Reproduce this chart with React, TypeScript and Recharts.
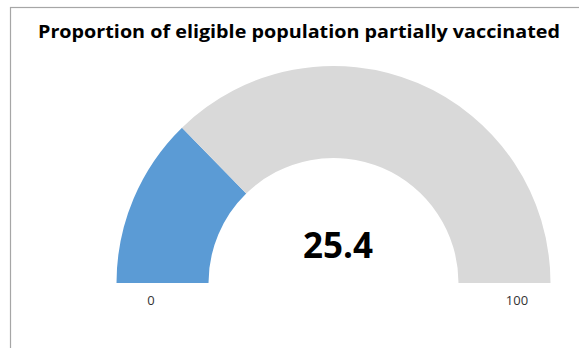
import React from 'react';
import { PieChart, Pie, Cell, Customized } from 'recharts';

const title = 'Proportion of eligible population partially vaccinated';
const segmentNames = ['Partially vaccinated', 'Remaining'];
const segmentValues = [25.4, 74.6];
const segmentColors = ['#5B9BD5', '#D9D9D9'];
const scaleLabels = ['0', '100'];
const valueLabel = '25.4';

const data = segmentNames.map((name, i) => ({ name, value: segmentValues[i] }));

const Overlay = () => (
  <g>
    <rect x={10.5} y={7.5} width={700} height={500} fill="none" stroke="#a6a6a6" strokeWidth={1.2} />
    <text x={299} y={38} textAnchor="middle" fontFamily="'Open Sans', sans-serif" fontWeight={700} fontSize={18.5} fill="#000" textLength={522} lengthAdjust="spacingAndGlyphs">{title}</text>
    <text x={338} y={258} textAnchor="middle" fontFamily="'Open Sans', sans-serif" fontWeight={700} fontSize={36} fill="#000" textLength={70} lengthAdjust="spacingAndGlyphs">{valueLabel}</text>
    <text x={151} y={305} textAnchor="middle" fontFamily="'Open Sans', sans-serif" fontSize={13} fill="#333">{scaleLabels[0]}</text>
    <text x={517} y={305} textAnchor="middle" fontFamily="'Open Sans', sans-serif" fontSize={13} fill="#333">{scaleLabels[1]}</text>
  </g>
);

export default function App() {
  return (
    <div style={{ position: 'absolute', left: 0, top: 0, width: 579, height: 348, background: '#fff' }}>
      <PieChart width={579} height={348} margin={{ top: 0, right: 0, bottom: 0, left: 0 }}>
        <Pie
          data={data}
          dataKey="value"
          nameKey="name"
          cx={333.5}
          cy={283}
          startAngle={180}
          endAngle={0}
          innerRadius={125}
          outerRadius={217}
          stroke="none"
          isAnimationActive={false}
        >
          {data.map((d, i) => (
            <Cell key={d.name} fill={segmentColors[i]} />
          ))}
        </Pie>
        <Customized component={Overlay} />
      </PieChart>
    </div>
  );
}
